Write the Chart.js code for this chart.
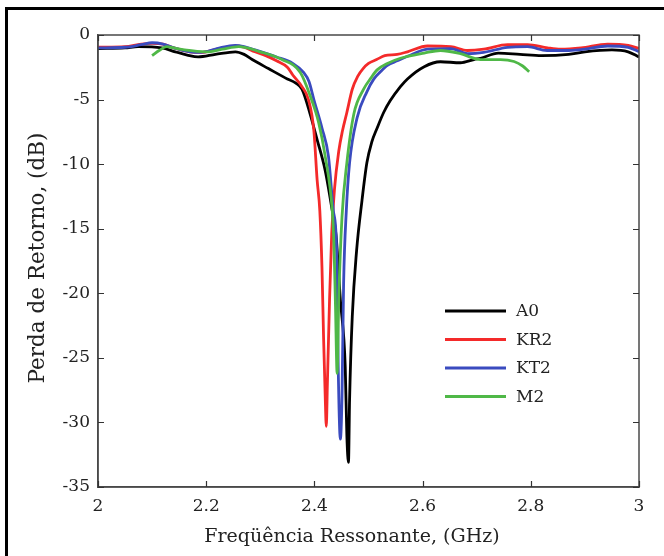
<!DOCTYPE html>
<html><head><meta charset="utf-8">
<script src="https://cdn.jsdelivr.net/npm/chart.js@4"></script>
<style>
html,body{margin:0;padding:0;background:#fff;}
#wrap{position:relative;width:664px;height:556px;overflow:hidden;}
#frame{position:absolute;left:5px;top:7px;width:700px;height:600px;border-top:3px solid #000;border-left:3px solid #000;pointer-events:none;}
canvas{position:absolute;left:0;top:0;}
</style>
</head><body>
<div id="wrap"><canvas id="c" width="664" height="556"></canvas><div id="frame"></div></div>
<script>
// ---- data ----
const xTickValues = [2, 2.2, 2.4, 2.6, 2.8, 3];
const yTickValues = [0, -5, -10, -15, -20, -25, -30, -35];
const seriesNames = ['A0', 'KR2', 'KT2', 'M2'];
const xTitle = 'Freqüência Ressonante, (GHz)';
const yTitle = 'Perda de Retorno, (dB)';

const a0Freq = [2.0,2.05,2.074,2.118,2.143,2.165,2.185,2.217,2.254,2.27,2.285,2.315,2.35,2.365,2.377,2.392,2.405,2.42,2.433,2.44,2.448,2.457,2.46,2.463,2.465,2.47,2.478,2.488,2.497,2.506,2.516,2.528,2.54,2.559,2.572,2.603,2.633,2.67,2.695,2.707,2.74,2.78,2.82,2.87,2.9,2.95,2.98,3.0];
const a0Loss = [-1.05,-1.0,-0.9,-1.0,-1.3,-1.55,-1.7,-1.5,-1.3,-1.5,-1.9,-2.6,-3.4,-3.7,-4.2,-6.1,-8.1,-10.5,-13.6,-15.5,-20.5,-25.7,-31,-33.1,-28.3,-21.8,-16.7,-12.8,-9.9,-8.3,-7.2,-6.0,-5.1,-4.0,-3.4,-2.45,-2.07,-2.15,-1.9,-1.8,-1.4,-1.5,-1.6,-1.5,-1.3,-1.15,-1.3,-1.7];

const kr2Freq = [2.0,2.05,2.08,2.1,2.12,2.14,2.17,2.19,2.22,2.254,2.27,2.29,2.31,2.33,2.35,2.36,2.377,2.389,2.399,2.405,2.41,2.414,2.417,2.42,2.422,2.424,2.428,2.432,2.437,2.445,2.452,2.46,2.47,2.48,2.49,2.5,2.515,2.53,2.553,2.572,2.609,2.652,2.683,2.713,2.757,2.794,2.831,2.855,2.893,2.942,2.98,3.0];
const kr2Loss = [-0.95,-0.9,-0.7,-0.65,-0.7,-1.0,-1.3,-1.35,-1.1,-0.85,-0.95,-1.3,-1.6,-2.0,-2.5,-3.1,-4.0,-5.0,-7.4,-11.2,-13.6,-18,-23.5,-28,-30.3,-27,-20.5,-15.4,-12,-9,-7.4,-6,-4.2,-3.2,-2.6,-2.2,-1.9,-1.6,-1.5,-1.3,-0.85,-0.9,-1.2,-1.1,-0.75,-0.75,-1.0,-1.1,-1.0,-0.7,-0.8,-1.05];

const kt2Freq = [2.0,2.05,2.08,2.1,2.12,2.14,2.17,2.19,2.22,2.254,2.27,2.29,2.33,2.36,2.38,2.39,2.399,2.414,2.426,2.435,2.441,2.444,2.448,2.451,2.454,2.459,2.465,2.479,2.497,2.51,2.522,2.535,2.553,2.572,2.609,2.652,2.683,2.713,2.757,2.794,2.83,2.87,2.9,2.942,2.98,3.0];
const kt2Loss = [-1.0,-0.95,-0.75,-0.6,-0.7,-1.0,-1.3,-1.35,-1.05,-0.8,-0.9,-1.15,-1.7,-2.2,-2.9,-3.6,-5.0,-7.2,-9.4,-13.6,-16.5,-25.7,-31.3,-28,-19.2,-13.6,-9.9,-6.4,-4.4,-3.4,-2.85,-2.35,-2.0,-1.65,-1.1,-1.05,-1.45,-1.35,-0.95,-0.9,-1.2,-1.2,-1.1,-0.85,-0.95,-1.3];

const m2Freq = [2.1,2.113,2.127,2.14,2.16,2.2,2.23,2.26,2.3,2.34,2.374,2.393,2.408,2.42,2.433,2.436,2.439,2.442,2.445,2.451,2.46,2.473,2.491,2.505,2.516,2.535,2.559,2.603,2.633,2.67,2.707,2.744,2.769,2.785,2.797];
const m2Loss = [-1.6,-1.2,-0.9,-1.0,-1.15,-1.3,-1.1,-0.9,-1.3,-1.9,-2.9,-4.8,-6.8,-9.4,-13.6,-16,-21,-26.2,-20.5,-14.1,-9.9,-6.1,-4.2,-3.3,-2.7,-2.2,-1.8,-1.4,-1.2,-1.45,-1.9,-1.9,-2.05,-2.4,-2.85];

const seriesColors = ['#000000', '#f42a2a', '#3a4bbf', '#4fb847'];

// ---- build ----
function pairs(fs, ls){ return fs.map((f,i)=>({x:f, y:ls[i]})); }
const seriesData = [pairs(a0Freq,a0Loss), pairs(kr2Freq,kr2Loss), pairs(kt2Freq,kt2Loss), pairs(m2Freq,m2Loss)];

const FONT = "'DejaVu Serif', 'Liberation Serif', serif";

const decor = {
  id: 'decor',
  afterDraw(chart){
    const ctx = chart.ctx, a = chart.chartArea;
    const xs = chart.scales.x, ys = chart.scales.y;
    ctx.save();
    ctx.strokeStyle = '#4a4a4a'; ctx.lineWidth = 1.5;
    ctx.strokeRect(a.left, a.top, a.right - a.left, a.bottom - a.top);
    ctx.strokeStyle = '#333'; ctx.lineWidth = 1.2;
    ctx.beginPath();
    xTickValues.forEach(v => {
      const px = Math.round(xs.getPixelForValue(v)) + 0.5;
      ctx.moveTo(px, a.bottom); ctx.lineTo(px, a.bottom - 6);
      ctx.moveTo(px, a.top); ctx.lineTo(px, a.top + 6);
    });
    yTickValues.forEach(v => {
      const py = Math.round(ys.getPixelForValue(v)) + 0.5;
      ctx.moveTo(a.left, py); ctx.lineTo(a.left + 6, py);
      ctx.moveTo(a.right, py); ctx.lineTo(a.right - 6, py);
    });
    ctx.stroke();
    ctx.fillStyle = '#222';
    ctx.textAlign = 'center'; ctx.textBaseline = 'middle';
    ctx.font = '19px ' + FONT;
    ctx.fillText(xTitle, 352, 537);
    ctx.font = '21.5px ' + FONT;
    ctx.translate(38, 258); ctx.rotate(-Math.PI/2);
    ctx.fillText(yTitle, 0, 0);
    ctx.restore();
    ctx.save();
    ctx.font = '17px ' + FONT;
    ctx.textAlign = 'left'; ctx.textBaseline = 'middle';
    chart.data.datasets.forEach((ds, i) => {
      const y = 311 + i * 28.5;
      ctx.strokeStyle = ds.borderColor; ctx.lineWidth = 3;
      ctx.beginPath(); ctx.moveTo(445, y); ctx.lineTo(506, y); ctx.stroke();
      ctx.fillStyle = '#222';
      ctx.fillText(ds.label, 516, y + 1);
    });
    ctx.restore();
  }
};

new Chart(document.getElementById('c'), {
  type: 'line',
  data: {
    datasets: seriesNames.map((n, i) => ({
      label: n,
      data: seriesData[i],
      borderColor: seriesColors[i],
      backgroundColor: seriesColors[i],
      borderWidth: 2.8,
      pointRadius: 0,
      cubicInterpolationMode: 'monotone',
      fill: false,
      order: 4 - i
    }))
  },
  options: {
    responsive: false,
    animation: false,
    devicePixelRatio: 1,
    layout: { padding: { top: 35, right: 25, left: 0, bottom: 0 } },
    plugins: { legend: { display: false }, tooltip: { enabled: false } },
    scales: {
      x: {
        type: 'linear', min: 2, max: 3,
        afterFit(s){ s.height = 69; },
        afterBuildTicks(s){ s.ticks = xTickValues.map(v => ({value: v})); },
        ticks: {
          padding: 9, color: '#222', font: { family: FONT, size: 17 },
          maxRotation: 0, autoSkip: false,
          callback: v => String(Number(v.toFixed(1)))
        },
        grid: { drawOnChartArea: false, drawTicks: false },
        border: { display: true, color: '#4a4a4a', width: 1.5 }
      },
      y: {
        type: 'linear', min: -35, max: 0,
        afterFit(s){ s.width = 98; },
        afterBuildTicks(s){ s.ticks = yTickValues.map(v => ({value: v})); },
        ticks: {
          padding: 8, color: '#222', font: { family: FONT, size: 17 },
          autoSkip: false,
          callback: v => String(v)
        },
        grid: { drawOnChartArea: false, drawTicks: false },
        border: { display: true, color: '#4a4a4a', width: 1.5 }
      }
    }
  },
  plugins: [decor]
});
</script>
</body></html>
